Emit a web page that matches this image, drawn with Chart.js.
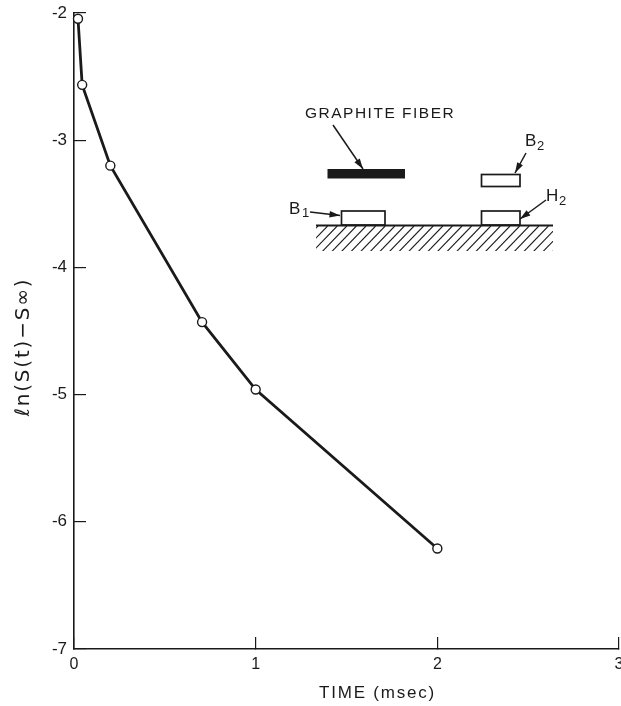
<!DOCTYPE html>
<html><head><meta charset="utf-8">
<style>html,body{margin:0;padding:0;background:#fff}#w{position:relative;width:621px;height:706px}canvas{display:block}</style>
<script src="https://cdn.jsdelivr.net/npm/chart.js@4"></script></head>
<body><div id="w"><canvas id="c" width="621" height="706"></canvas></div>
<script>
const timeMsec=[0.022,0.045,0.2,0.705,1,2];
const lnSignal=[-2.045,-2.565,-3.2,-4.43,-4.96,-6.21];
const xTicks=[0,1,2,3];
const yTicks=[-2,-3,-4,-5,-6,-7];
const xTitle='TIME (msec)';
const yTitle='ℓn(S(t)−S∞)';
const INK='#1a1a1a';

function shiftTitle(s,dx,dy,spacing){
  if(s._shifted)return; s._shifted=true;
  const o=s.drawTitle;
  s.drawTitle=function(){const c=this.ctx;c.save();c.translate(dx,dy);c.letterSpacing=spacing;o.call(this);c.restore();};
}
const inset={id:'inset',afterDatasetsDraw(chart){
  const c=chart.ctx;c.save();
  c.strokeStyle=INK;c.fillStyle=INK;c.lineCap='butt';
  const line=(a,b,d,e,w)=>{c.lineWidth=w;c.beginPath();c.moveTo(a,b);c.lineTo(d,e);c.stroke();};
  const arrow=(a,b,d,e)=>{line(a,b,d,e,1.5);const t=Math.atan2(e-b,d-a),L=11,W=.3;
    c.beginPath();c.moveTo(d,e);c.lineTo(d-L*Math.cos(t-W),e-L*Math.sin(t-W));c.lineTo(d-L*Math.cos(t+W),e-L*Math.sin(t+W));c.closePath();c.fill();};
  c.fillRect(327.5,169,77.5,9.5);
  c.lineWidth=1.7;
  c.strokeRect(481.5,174.5,38.5,12);
  c.strokeRect(341.5,211,43.5,14);
  c.strokeRect(481.5,211,38.5,14);
  line(316,225.5,553,225.5,2);
  c.save();c.beginPath();c.rect(316,226,237,25);c.clip();
  for(let x=318;x<590;x+=9.6)line(x,226,x-25,252,1.1);
  c.restore();
  arrow(333,125,363,169);
  arrow(526,153,515,173);
  arrow(546,200,520,219);
  arrow(310,212,340,215.5);
  c.textBaseline='middle';c.textAlign='left';
  c.font='15.5px "Liberation Sans"';
  c.letterSpacing='1.5px';
  c.fillText('GRAPHITE FIBER',305,113.5);
  c.letterSpacing='0px';
  c.font='17px "Liberation Sans"';
  c.fillText('B',289,209);c.fillText('B',525,141);c.fillText('H',546,196);
  c.font='13px "Liberation Sans"';
  c.fillText('1',302,213);c.fillText('2',537,146);c.fillText('2',559,201);
  c.restore();
}};
new Chart(document.getElementById('c'),{
  type:'line',
  data:{datasets:[{data:timeMsec.map((x,i)=>({x,y:lnSignal[i]})),
    borderColor:INK,borderWidth:2.8,tension:0,clip:false,
    pointRadius:4.5,pointHoverRadius:4.5,pointBackgroundColor:'#fff',pointBorderColor:INK,pointBorderWidth:1.4}]},
  plugins:[inset],
  options:{responsive:false,animation:false,events:[],
    layout:{autoPadding:false,padding:{top:13,right:2,left:0,bottom:0}},
    plugins:{legend:{display:false},tooltip:{enabled:false}},
    scales:{
      x:{type:'linear',min:0,max:3,
        afterBuildTicks:s=>{s.ticks=xTicks.map(value=>({value}));},
        afterFit:s=>{s.height=57;s.paddingLeft=0;s.paddingRight=0;shiftTitle(s,31,-2,'1.8px');},
        border:{color:INK,width:1.6},
        grid:{drawOnChartArea:false,color:INK,lineWidth:1.2,tickLength:-12},
        ticks:{color:INK,padding:18,maxRotation:0,autoSkip:false,font:{family:'Liberation Sans',size:16}},
        title:{display:true,text:xTitle,color:INK,padding:{top:12,bottom:0},font:{family:'Liberation Sans',size:17}}
      },
      y:{type:'linear',min:-7,max:-2,
        afterBuildTicks:s=>{s.ticks=yTicks.map(value=>({value}));},
        afterFit:s=>{s.width=74;s.paddingTop=0;s.paddingBottom=0;shiftTitle(s,0,16,'1.8px');},
        border:{color:INK,width:1.6},
        grid:{drawOnChartArea:false,color:INK,lineWidth:1.2,tickLength:-12},
        ticks:{color:INK,padding:19,autoSkip:false,font:{family:'Liberation Sans',size:17}},
        title:{display:true,text:yTitle,color:INK,padding:{top:12,bottom:0},font:{family:'DejaVu Sans',size:20}}
      }
    }}
});
</script></body></html>
